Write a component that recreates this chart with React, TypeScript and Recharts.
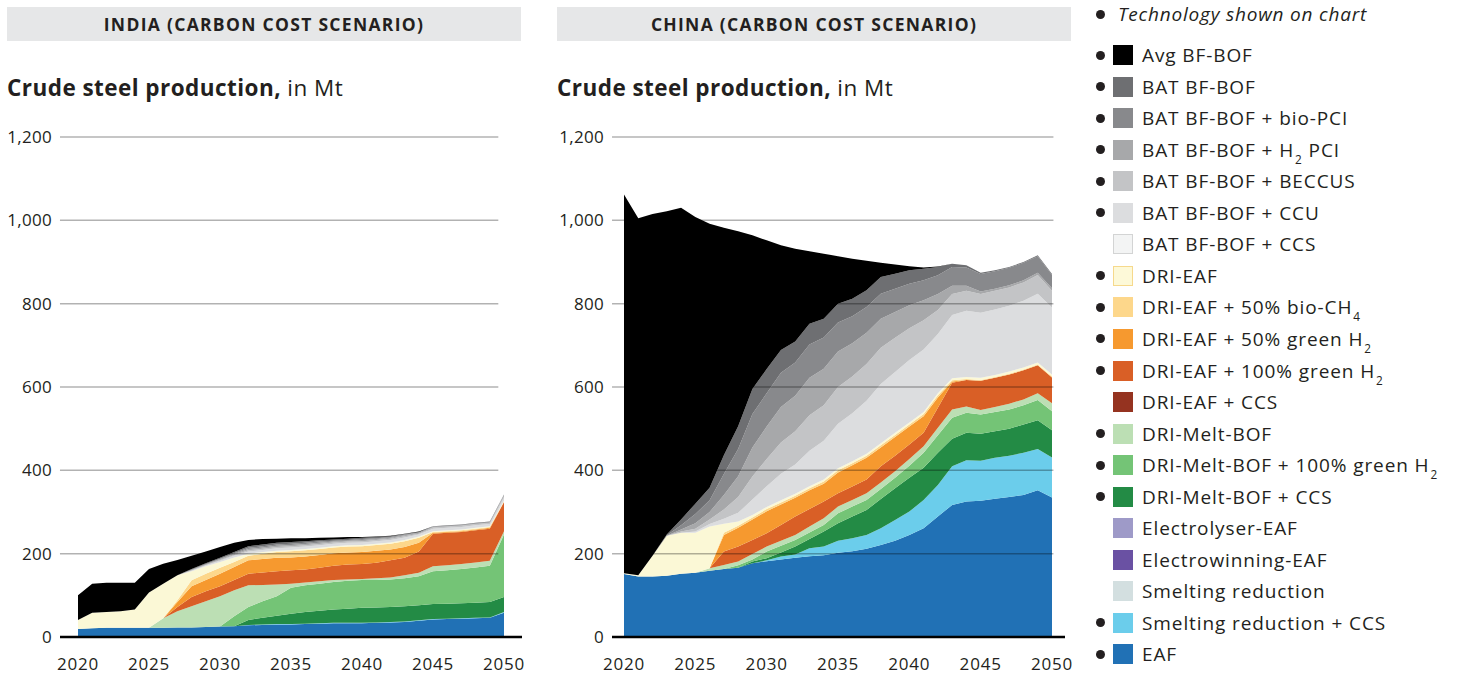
import React from 'react';
import { AreaChart, Area, XAxis, YAxis, ReferenceLine } from 'recharts';

const years = [2020, 2021, 2022, 2023, 2024, 2025, 2026, 2027, 2028, 2029, 2030, 2031, 2032, 2033, 2034, 2035, 2036, 2037, 2038, 2039, 2040, 2041, 2042, 2043, 2044, 2045, 2046, 2047, 2048, 2049, 2050];
const xTicks = [2020, 2025, 2030, 2035, 2040, 2045, 2050];
const yTicks = [0, 200, 400, 600, 800, 1000, 1200];
const gridValues = [200, 400, 600, 800, 1000, 1200];

// India (carbon cost scenario), Mt by technology
const indiaEAF = [19, 21, 22, 22, 22, 22, 22, 23, 23, 24, 25, 26, 28, 29, 30, 30, 31, 32, 33, 33, 33, 34, 35, 36, 39, 42, 43, 44, 45, 46, 58];
const indiaSRCCS = [0, 0, 0, 0, 0, 0, 0, 0, 0, 0, 0, 0, 1, 1, 1, 1, 1, 1, 1, 1, 1, 1, 1, 1, 1, 1, 1, 1, 1, 1, 2];
const indiaDMCCS = [0, 0, 0, 0, 0, 0, 0, 0, 0, 0, 0, 0, 12, 16, 20, 25, 28, 30, 32, 34, 36, 36, 36, 37, 36, 36, 36, 36, 36, 37, 36];
const indiaDMH2 = [0, 0, 0, 0, 0, 0, 0, 0, 0, 0, 0, 24, 31, 40, 47, 62, 64, 65, 66, 67, 67, 66, 66, 67, 70, 79, 80, 82, 85, 87, 150];
const indiaDM = [0, 0, 0, 0, 0, 0, 23, 39, 51, 62, 73, 62, 52, 39, 28, 10, 7, 6, 5, 3, 2, 4, 5, 7, 8, 12, 12, 12, 12, 12, 8];
const indiaDEH2100 = [0, 0, 0, 0, 0, 0, 0, 10, 22, 24, 24, 25, 28, 30, 32, 32, 31, 32, 34, 36, 36, 37, 41, 42, 51, 78, 78, 77, 77, 77, 70];
const indiaDEH250 = [0, 0, 0, 0, 0, 0, 0, 12, 26, 27, 30, 31, 32, 32, 32, 31, 31, 31, 30, 29, 29, 29, 26, 26, 21, 2, 2, 2, 2, 2, 0];
const indiaDEBio = [0, 0, 0, 0, 0, 0, 0, 4, 14, 15, 14, 12, 11, 13, 14, 15, 15, 14, 14, 14, 14, 14, 14, 14, 12, 2, 2, 2, 2, 2, 1];
const indiaDRI = [22, 37, 38, 40, 44, 85, 83, 60, 22, 18, 14, 11, 5, 4, 3, 3, 3, 3, 3, 3, 3, 3, 3, 3, 3, 2, 2, 2, 2, 2, 2];
const indiaCCU = [0, 0, 0, 0, 0, 0, 0, 0, 1, 2, 3, 4, 5, 5, 6, 6, 6, 6, 6, 6, 6, 6, 6, 6, 5, 6, 6, 6, 6, 5, 7];
const indiaBECCUS = [0, 0, 0, 0, 0, 0, 0, 0, 1, 1, 2, 2, 3, 3, 3, 3, 3, 3, 3, 3, 3, 3, 3, 3, 2, 3, 3, 3, 3, 3, 4];
const indiaH2PCI = [0, 0, 0, 0, 0, 0, 0, 0, 1, 1, 2, 2, 3, 3, 3, 3, 3, 3, 2, 2, 3, 2, 2, 2, 2, 1, 1, 1, 1, 1, 2];
const indiaBioPCI = [0, 0, 0, 0, 0, 0, 0, 0, 1, 1, 1, 2, 3, 3, 3, 3, 3, 3, 2, 2, 2, 2, 2, 2, 1, 1, 1, 1, 1, 1, 1];
const indiaBAT = [0, 0, 0, 0, 0, 0, 0, 0, 1, 2, 2, 3, 4, 4, 4, 4, 4, 3, 3, 3, 3, 3, 2, 1, 1, 1, 1, 1, 1, 1, 1];
const indiaAvgBF = [59, 70, 70, 68, 64, 56, 48, 37, 32, 28, 26, 22, 15, 13, 10, 9, 7, 6, 5, 4, 2, 1, 1, 1, 1, 0, 0, 0, 0, 0, 0];

// China (carbon cost scenario), Mt by technology
const chinaEAF = [151, 145, 145, 147, 152, 154, 159, 163, 166, 177, 182, 186, 190, 194, 196, 202, 206, 212, 221, 231, 245, 261, 289, 317, 325, 327, 332, 336, 341, 352, 335];
const chinaSRCCS = [0, 0, 0, 0, 0, 0, 0, 0, 0, 0, 2, 7, 8, 19, 21, 29, 31, 33, 40, 50, 56, 68, 76, 93, 99, 96, 98, 99, 101, 99, 96];
const chinaDMCCS = [0, 0, 0, 0, 0, 0, 0, 0, 0, 4, 5, 10, 19, 22, 36, 42, 52, 60, 70, 76, 81, 77, 77, 66, 66, 65, 64, 65, 68, 69, 65];
const chinaDMH2 = [0, 0, 0, 0, 0, 0, 0, 0, 6, 5, 16, 16, 16, 16, 16, 24, 24, 24, 24, 25, 29, 36, 42, 50, 48, 46, 46, 46, 46, 49, 46];
const chinaDM = [0, 0, 0, 0, 0, 0, 6, 10, 9, 13, 12, 12, 12, 14, 16, 16, 16, 16, 16, 16, 16, 16, 18, 20, 15, 11, 12, 14, 14, 16, 19];
const chinaDEH2100 = [0, 0, 0, 0, 0, 0, 0, 32, 36, 34, 32, 38, 44, 42, 40, 32, 32, 33, 39, 37, 35, 32, 48, 64, 64, 70, 70, 70, 70, 67, 62];
const chinaDEH250 = [0, 0, 0, 0, 0, 0, 0, 40, 45, 49, 53, 49, 45, 45, 43, 50, 51, 52, 45, 45, 43, 40, 25, 3, 0, 0, 0, 0, 0, 0, 0];
const chinaDEBio = [0, 0, 0, 0, 0, 0, 0, 5, 5, 5, 5, 5, 5, 5, 5, 5, 5, 5, 5, 5, 5, 5, 5, 3, 2, 2, 2, 2, 2, 2, 2];
const chinaDRI = [2, 3, 50, 96, 98, 96, 100, 22, 10, 6, 5, 5, 5, 5, 5, 5, 5, 5, 5, 5, 5, 5, 5, 5, 5, 5, 5, 5, 5, 5, 5];
const chinaCCU = [0, 0, 0, 0, 0, 3, 6, 12, 21, 37, 50, 64, 70, 85, 93, 107, 115, 127, 142, 146, 150, 150, 142, 152, 159, 156, 157, 158, 160, 165, 161];
const chinaBECCUS = [0, 0, 0, 0, 3, 7, 11, 22, 38, 55, 65, 75, 80, 85, 85, 88, 88, 88, 87, 82, 76, 70, 58, 50, 48, 45, 45, 44, 44, 45, 40];
const chinaH2PCI = [0, 0, 0, 0, 5, 13, 18, 35, 50, 70, 78, 85, 85, 90, 88, 85, 80, 75, 70, 62, 55, 48, 38, 20, 12, 6, 5, 5, 5, 5, 6];
const chinaBioPCI = [0, 0, 0, 1, 10, 22, 28, 50, 65, 80, 80, 82, 80, 80, 75, 70, 65, 62, 60, 56, 52, 48, 45, 45, 44, 42, 42, 42, 42, 40, 32];
const chinaBAT = [0, 0, 0, 2, 14, 25, 30, 45, 55, 60, 58, 55, 50, 50, 45, 45, 42, 40, 40, 36, 32, 28, 20, 8, 5, 3, 2, 2, 2, 2, 2];
const chinaAvgBF = [909, 857, 820, 776, 748, 688, 634, 546, 468, 369, 309, 251, 223, 174, 156, 114, 96, 71, 34, 22, 10, 3, 1, 0, 0, 0, 0, 0, 0, 0, 0];

// stacking order, bottom to top
const seriesKeys = ['eaf', 'srccs', 'dmccs', 'dmh2', 'dm', 'deh2100', 'deh250', 'debio', 'dri', 'ccu', 'beccus', 'h2pci', 'biopci', 'bat', 'avgbf'];
const seriesColors: Record<string, string> = {
  eaf: '#2171b5', srccs: '#6bcdeb', dmccs: '#238b45', dmh2: '#74c476', dm: '#bcdfb4',
  deh2100: '#d95f26', deh250: '#f6992f', debio: '#fdd78b', dri: '#fbf8d6',
  ccu: '#dcdddf', beccus: '#c3c4c6', h2pci: '#a7a8aa', biopci: '#88898c', bat: '#6e6f72', avgbf: '#000000',
};

function buildRows(cols: Record<string, number[]>) {
  return years.map((year, i) => {
    const row: Record<string, number> = { year };
    for (const k of Object.keys(cols)) row[k] = cols[k][i];
    return row;
  });
}

const indiaRows = buildRows({
  eaf: indiaEAF, srccs: indiaSRCCS, dmccs: indiaDMCCS, dmh2: indiaDMH2, dm: indiaDM,
  deh2100: indiaDEH2100, deh250: indiaDEH250, debio: indiaDEBio, dri: indiaDRI,
  ccu: indiaCCU, beccus: indiaBECCUS, h2pci: indiaH2PCI, biopci: indiaBioPCI, bat: indiaBAT, avgbf: indiaAvgBF,
});
const chinaRows = buildRows({
  eaf: chinaEAF, srccs: chinaSRCCS, dmccs: chinaDMCCS, dmh2: chinaDMH2, dm: chinaDM,
  deh2100: chinaDEH2100, deh250: chinaDEH250, debio: chinaDEBio, dri: chinaDRI,
  ccu: chinaCCU, beccus: chinaBECCUS, h2pci: chinaH2PCI, biopci: chinaBioPCI, bat: chinaBAT, avgbf: chinaAvgBF,
});

function Sub({ children }: { children: React.ReactNode }) {
  return <span style={{ fontSize: '0.62em', position: 'relative', top: 7, marginLeft: 1 }}>{children}</span>;
}

const legendItems: { label: React.ReactNode; color: string; border?: string; shown: boolean }[] = [
  { label: 'Avg BF-BOF', color: '#000000', shown: true },
  { label: 'BAT BF-BOF', color: '#6e6f72', shown: true },
  { label: 'BAT BF-BOF + bio-PCI', color: '#88898c', shown: true },
  { label: <>BAT BF-BOF + H<Sub>2</Sub> PCI</>, color: '#a7a8aa', shown: true },
  { label: 'BAT BF-BOF + BECCUS', color: '#c3c4c6', shown: true },
  { label: 'BAT BF-BOF + CCU', color: '#dcdddf', shown: true },
  { label: 'BAT BF-BOF + CCS', color: '#f3f4f4', border: '#d3d4d4', shown: false },
  { label: 'DRI-EAF', color: '#fdf9d8', border: '#f6d98c', shown: true },
  { label: <>DRI-EAF + 50% bio-CH<Sub>4</Sub></>, color: '#fdd78b', shown: true },
  { label: <>DRI-EAF + 50% green H<Sub>2</Sub></>, color: '#f6992f', shown: true },
  { label: <>DRI-EAF + 100% green H<Sub>2</Sub></>, color: '#d95f26', shown: true },
  { label: 'DRI-EAF + CCS', color: '#953320', shown: false },
  { label: 'DRI-Melt-BOF', color: '#bcdfb4', shown: true },
  { label: <>DRI-Melt-BOF + 100% green H<Sub>2</Sub></>, color: '#74c476', shown: true },
  { label: 'DRI-Melt-BOF + CCS', color: '#238b45', shown: true },
  { label: 'Electrolyser-EAF', color: '#9e9ac8', shown: false },
  { label: 'Electrowinning-EAF', color: '#6a51a3', shown: false },
  { label: 'Smelting reduction', color: '#d3dfe0', shown: false },
  { label: 'Smelting reduction + CCS', color: '#6bcdeb', shown: true },
  { label: 'EAF', color: '#2171b5', shown: true },
];

const FONT = '"Open Sans", Roboto, "Noto Sans", sans-serif';
const TICK_FONT = '"Open Sans", Roboto, sans-serif';
const TEXT = '#231f20';

function Panel(props: {
  left: number; width: number; rows: Record<string, number>[]; title: string;
  padLeft: number; padRight: number; marginLeft: number; marginRight: number;
  gridFrom: number; gridTo: number; boxWidth: number;
}) {
  const { left, width, rows, title, padLeft, padRight, marginLeft, marginRight, gridFrom, gridTo, boxWidth } = props;
  return (
    <div style={{ position: 'absolute', left, top: 0, width, height: 675 }}>
      <div style={{
        position: 'absolute', left: 7, top: 7, width: boxWidth, height: 34, background: '#e6e7e8',
        display: 'flex', alignItems: 'center', justifyContent: 'center',
        fontFamily: FONT, fontWeight: 700, fontSize: 17.5, color: TEXT, letterSpacing: 1.3,
      }}>{title}</div>
      <div style={{
        position: 'absolute', left: 7, top: 73, fontFamily: FONT, fontSize: 22.5, color: TEXT,
        whiteSpace: 'nowrap', letterSpacing: 0.45, lineHeight: '30px',
      }}>
        <span style={{ fontWeight: 700 }}>Crude steel production,</span> in Mt
      </div>
      <div style={{ position: 'absolute', left: 0, top: 0 }}>
        <AreaChart width={width} height={675} data={rows}
          margin={{ top: 137, right: marginRight, bottom: 8, left: marginLeft }}>
          <XAxis dataKey="year" type="number" domain={[2020, 2050]} ticks={xTicks}
            padding={{ left: padLeft, right: padRight }} height={30}
            axisLine={{ stroke: '#000', strokeWidth: 2.5 }} tickLine={false} tickMargin={15}
            tick={{ fill: TEXT, fontSize: 17, fontFamily: TICK_FONT, letterSpacing: 0.8 }} />
          <YAxis type="number" domain={[0, 1200]} ticks={yTicks} width={55}
            axisLine={false} tickLine={false}
            tickFormatter={(v: number) => v.toLocaleString('en-US')}
            tick={{ fill: TEXT, fontSize: 17, fontFamily: TICK_FONT, letterSpacing: 0.3 }} />
          {seriesKeys.map((k) => (
            <Area key={k} type="linear" dataKey={k} stackId="s" fill={seriesColors[k]} fillOpacity={1}
              stroke="none" isAnimationActive={false} dot={false} activeDot={false} />
          ))}
          {gridValues.map((v) => (
            <ReferenceLine key={v} ifOverflow="visible"
              segment={[{ x: gridFrom, y: v }, { x: gridTo, y: v }]}
              stroke="rgba(0,0,0,0.3)" strokeWidth={1.5} />
          ))}
        </AreaChart>
      </div>
    </div>
  );
}

function Legend() {
  const rowTop = 55;
  const step = 31.55;
  return (
    <div style={{ position: 'absolute', left: 0, top: 0, fontFamily: FONT, color: TEXT }}>
      <div style={{ position: 'absolute', left: 1096, top: 10, width: 9, height: 9, borderRadius: 5, background: TEXT }} />
      <div style={{ position: 'absolute', left: 1118, top: 1, fontSize: 19, fontStyle: 'italic', lineHeight: '26px', whiteSpace: 'nowrap', letterSpacing: 0.8 }}>
        Technology shown on chart
      </div>
      {legendItems.map((it, i) => {
        const cy = rowTop + i * step;
        return (
          <React.Fragment key={i}>
            {it.shown && (
              <div style={{ position: 'absolute', left: 1096, top: cy - 4.5, width: 9, height: 9, borderRadius: 5, background: TEXT }} />
            )}
            <div style={{
              position: 'absolute', left: 1113, top: cy - 10, width: it.border ? 18 : 20, height: it.border ? 18 : 20,
              background: it.color, border: it.border ? `1px solid ${it.border}` : 'none',
            }} />
            <div style={{ position: 'absolute', left: 1142, top: cy - 13, fontSize: 19, lineHeight: '26px', whiteSpace: 'nowrap', letterSpacing: 0.9 }}>
              {it.label}
            </div>
          </React.Fragment>
        );
      })}
    </div>
  );
}

export default function App() {
  return (
    <div style={{ position: 'absolute', left: 0, top: 0, width: 1458, height: 675, background: '#fff', overflow: 'hidden' }}>
      <Panel left={0} width={540} rows={indiaRows} title="INDIA (CARBON COST SCENARIO)"
        padLeft={18} padRight={18} marginLeft={5} marginRight={18}
        gridFrom={2018.73} gridTo={2049.6} boxWidth={514} />
      <Panel left={550} width={535} rows={chinaRows} title="CHINA (CARBON COST SCENARIO)"
        padLeft={12} padRight={13} marginLeft={7} marginRight={20}
        gridFrom={2019.16} gridTo={2050.1} boxWidth={514} />
      <Legend />
    </div>
  );
}
